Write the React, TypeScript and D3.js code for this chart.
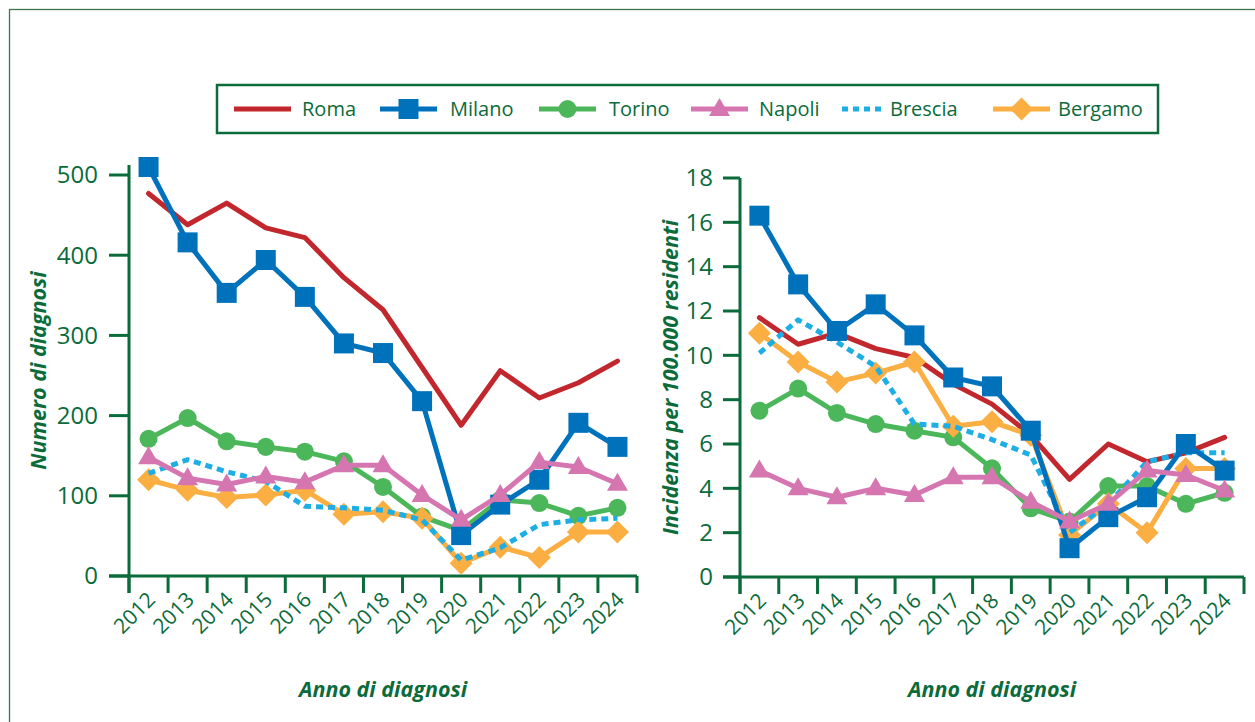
import React from 'react';
import * as d3 from 'd3';

// anni di diagnosi
const years = ['2012', '2013', '2014', '2015', '2016', '2017', '2018', '2019', '2020', '2021', '2022', '2023', '2024'];

// numero di diagnosi
const romaN = [477, 438, 465, 434, 422, 372, 332, 260, 188, 256, 222, 241, 268];
const milanoN = [510, 416, 353, 394, 348, 290, 278, 218, 51, 89, 120, 191, 161];
const torinoN = [171, 197, 168, 161, 155, 143, 111, 74, 57, 95, 91, 75, 85];
const napoliN = [148, 122, 114, 124, 117, 138, 138, 101, 70, 101, 142, 136, 115];
const bresciaN = [128, 145, 130, 118, 87, 85, 82, 70, 20, 35, 64, 70, 72];
const bergamoN = [120, 107, 98, 101, 107, 77, 80, 72, 16, 36, 23, 55, 55];

// incidenza per 100.000 residenti
const romaI = [11.7, 10.5, 11.0, 10.3, 9.9, 8.7, 7.8, 6.4, 4.4, 6.0, 5.2, 5.6, 6.3];
const milanoI = [16.3, 13.2, 11.1, 12.3, 10.9, 9.0, 8.6, 6.6, 1.3, 2.7, 3.6, 6.0, 4.8];
const torinoI = [7.5, 8.5, 7.4, 6.9, 6.6, 6.3, 4.9, 3.1, 2.5, 4.1, 4.1, 3.3, 3.8];
const napoliI = [4.8, 4.0, 3.6, 4.0, 3.7, 4.5, 4.5, 3.4, 2.5, 3.3, 4.8, 4.6, 3.9];
const bresciaI = [10.1, 11.6, 10.6, 9.5, 6.9, 6.8, 6.2, 5.5, 2.0, 3.3, 5.2, 5.6, 5.6];
const bergamoI = [11.0, 9.7, 8.8, 9.2, 9.7, 6.8, 7.0, 6.4, 1.9, 3.3, 2.0, 4.9, 4.9];

const leftTicks = [0, 100, 200, 300, 400, 500];
const rightTicks = [0, 2, 4, 6, 8, 10, 12, 14, 16, 18];

const GREEN = '#0b6b3a';
const FONT = '"Open Sans", "Noto Sans", sans-serif';

type Marker = 'none' | 'square' | 'circle' | 'triangle' | 'diamond';
type Serie = { name: string; color: string; marker: Marker; dashed?: boolean };

const roma: Serie = { name: 'Roma', color: '#c1272d', marker: 'none' };
const milano: Serie = { name: 'Milano', color: '#0072bc', marker: 'square' };
const torino: Serie = { name: 'Torino', color: '#4cb75a', marker: 'circle' };
const napoli: Serie = { name: 'Napoli', color: '#d576b1', marker: 'triangle' };
const brescia: Serie = { name: 'Brescia', color: '#1eaee6', marker: 'none', dashed: true };
const bergamo: Serie = { name: 'Bergamo', color: '#fbae42', marker: 'diamond' };

function markerPath(m: Marker) {
  if (m === 'square') return 'M-10,-10H10V10H-10Z';
  if (m === 'circle') return d3.symbol(d3.symbolCircle, 255)() as string;
  if (m === 'triangle') return 'M0,-11L10.5,7L-10.5,7Z';
  if (m === 'diamond') return 'M0,-11.5L11.5,0L0,11.5L-11.5,0Z';
  return '';
}

function Panel({ rows, x0, x1, y0, y1, axisTop, max, ticks, labelEnd, tickStart, yTitle, yTitleX }: any) {
  const x = d3.scaleBand().domain(years).range([x0, x1]);
  const y = d3.scaleLinear().domain([0, max]).range([y0, y1]);
  const cx = (i: number) => (x(years[i]) as number) + x.bandwidth() / 2;
  const line = d3.line<number>().x((d, i) => cx(i)).y(d => y(d));
  const bounds = years.map(yr => x(yr) as number).concat([x1]);
  const midY = (y0 + axisTop) / 2;
  return (
    <g>
      {/* assi */}
      <line x1={x0} x2={x0} y1={axisTop} y2={y0 + 17} stroke={GREEN} strokeWidth={3} />
      <line x1={tickStart} x2={x1} y1={y0} y2={y0} stroke={GREEN} strokeWidth={3} />
      {ticks.map((t: number) => (
        <g key={t}>
          <line x1={tickStart} x2={x0} y1={y(t)} y2={y(t)} stroke={GREEN} strokeWidth={3} />
          <text x={labelEnd} y={y(t)} dy="0.35em" textAnchor="end" fontSize={24} fill={GREEN} fontFamily={FONT}>{t}</text>
        </g>
      ))}
      {bounds.map((b, i) => (
        <line key={i} x1={b} x2={b} y1={y0} y2={y0 + 17} stroke={GREEN} strokeWidth={3} />
      ))}
      {years.map((yr, i) => (
        <text key={yr} transform={`translate(${cx(i) + 8},${y0 + 25}) rotate(-45)`} textAnchor="end" fontSize={21} fill={GREEN} fontFamily={FONT}>{yr}</text>
      ))}
      <text x={(x0 + x1) / 2} y={697} textAnchor="middle" fontSize={21.5} fontWeight="bold" fontStyle="italic" fill={GREEN} fontFamily={FONT}>Anno di diagnosi</text>
      <text transform={`translate(${yTitleX},${midY}) rotate(-90)`} textAnchor="middle" fontSize={21.5} fontWeight="bold" fontStyle="italic" fill={GREEN} fontFamily={FONT}>{yTitle}</text>
      {/* serie */}
      {rows.map(([s, vals]: [Serie, number[]]) => (
        <g key={s.name}>
          <path d={line(vals) as string} fill="none" stroke={s.color} strokeWidth={5}
            strokeLinecap={s.dashed ? 'butt' : 'round'} strokeLinejoin="round"
            strokeDasharray={s.dashed ? '7,5' : undefined} />
          {s.marker !== 'none' && vals.map((v, i) => (
            <path key={i} d={markerPath(s.marker)} transform={`translate(${cx(i)},${y(v)})`} fill={s.color} />
          ))}
        </g>
      ))}
    </g>
  );
}

const legendItems: [Serie, number, number][] = [
  [roma, 234, 302],
  [milano, 380, 450],
  [torino, 539, 609],
  [napoli, 691, 759],
  [brescia, 842, 890],
  [bergamo, 993, 1058],
];

export default function App() {
  const leftRows = [[roma, romaN], [torino, torinoN], [bergamo, bergamoN], [brescia, bresciaN], [milano, milanoN], [napoli, napoliN]];
  const rightRows = [[roma, romaI], [torino, torinoI], [bergamo, bergamoI], [brescia, bresciaI], [milano, milanoI], [napoli, napoliI]];
  return (
    <svg width={1255} height={722} style={{ position: 'absolute', left: 0, top: 0, background: '#fff' }}>
      <rect x={9.5} y={9.5} width={1300} height={800} fill="none" stroke="#3f7350" strokeWidth={1.3} />
      <rect x={217} y={85} width={941} height={48} fill="none" stroke={GREEN} strokeWidth={2.5} />
      {legendItems.map(([s, lx, tx]) => {
        const len = s.dashed ? 41 : 57;
        return (
          <g key={s.name}>
            <line x1={lx} x2={lx + len} y1={109} y2={109} stroke={s.color} strokeWidth={5}
              strokeDasharray={s.dashed ? '6,5' : undefined} />
            {s.marker !== 'none' && <path d={markerPath(s.marker)} transform={`translate(${lx + len / 2},109)`} fill={s.color} />}
            <text x={tx} y={109} dy="0.35em" fontSize={20} fill={GREEN} fontFamily={FONT}>{s.name}</text>
          </g>
        );
      })}
      <Panel rows={leftRows} x0={129} x1={637} y0={576} y1={175} axisTop={165} max={500} ticks={leftTicks}
        labelEnd={98} tickStart={109} yTitle="Numero di diagnosi" yTitleX={46} />
      <Panel rows={rightRows} x0={740} x1={1244} y0={577} y1={178} axisTop={178} max={18} ticks={rightTicks}
        labelEnd={713} tickStart={723} yTitle="Incidenza per 100.000 residenti" yTitleX={678} />
    </svg>
  );
}
